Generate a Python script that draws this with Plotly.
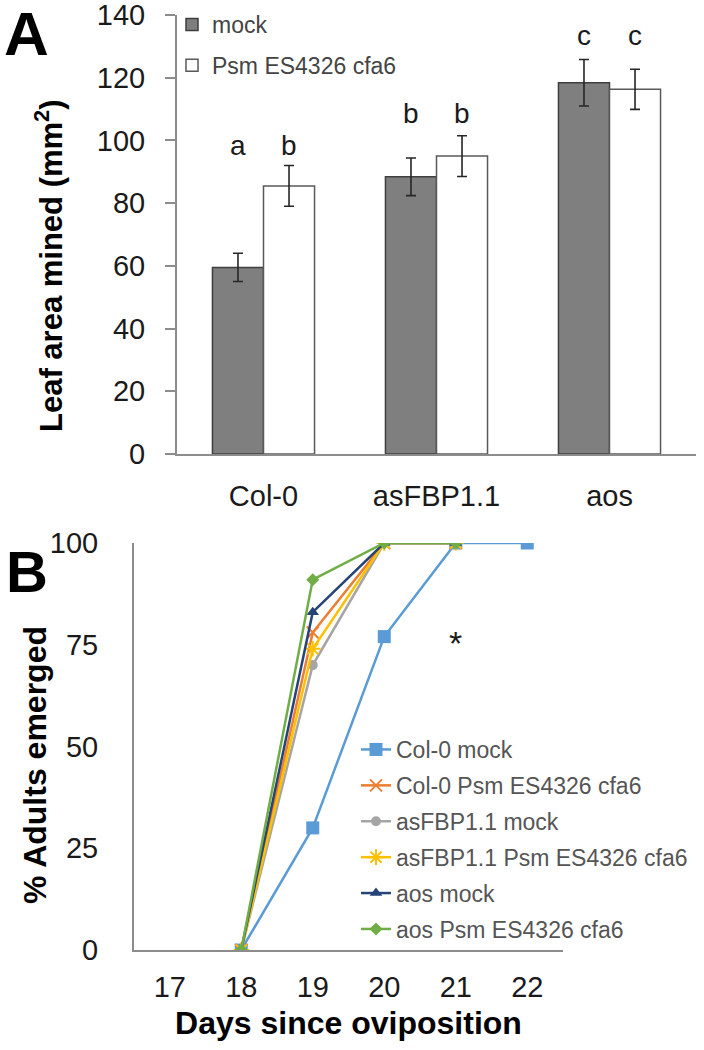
import plotly.graph_objects as go

# ---------------- Data ----------------
# Panel A
genotypes = ["Col-0", "asFBP1.1", "aos"]
treatments = ["mock", "Psm ES4326 cfa6"]
area_mock = [59.5, 88.4, 118.4]
err_mock = [4.5, 6.0, 7.4]
area_psm = [85.5, 95.0, 116.3]
err_psm = [6.5, 6.5, 6.4]
letters_mock = ["a", "b", "c"]
letters_psm = ["b", "b", "c"]
letter_y = [98.5, 108.7, 133.6]

# Panel B
days = [17, 18, 19, 20, 21, 22]
series_names = ["Col-0 mock", "Col-0 Psm ES4326 cfa6", "asFBP1.1 mock",
                "asFBP1.1 Psm ES4326 cfa6", "aos mock", "aos Psm ES4326 cfa6"]
col0_mock = [None, 0, 30, 77, 100, 100]
col0_psm = [None, 0, 78, 100, 100, None]
asfbp_mock = [None, 0, 70, 100, 100, None]
asfbp_psm = [None, 0, 74, 100, 100, None]
aos_mock = [None, 0, 83, 100, 100, None]
aos_psm = [None, 0, 91, 100, 100, None]
star_day = 21
star_y = 75.5

# ---------------- Styling ----------------
W, H = 704, 1050
FONT = "Liberation Sans, Arial, sans-serif"
AXIS_GRAY = "#8c8c8c"
TXT = "#1a1a1a"
TICK_SIZE = 29


def fx(px):
    return px / W


def fy(py):
    return 1 - py / H


bargap = 0.41
offset = (1 - bargap) / 4
xs = list(range(len(genotypes)))

fig = go.Figure()

fig.add_trace(go.Bar(
    x=xs, y=area_mock, name=treatments[0], legend="legend", legendgroup="m",
    marker=dict(color="#7f7f7f", line=dict(color="#3f3f3f", width=1.5)),
    error_y=dict(type="data", array=err_mock, color="#262626", thickness=1.6, width=5),
    xaxis="x", yaxis="y",
))
fig.add_trace(go.Bar(
    x=xs, y=area_psm, name=treatments[1], legend="legend", legendgroup="p",
    marker=dict(color="white", line=dict(color="#595959", width=1.5)),
    error_y=dict(type="data", array=err_psm, color="#262626", thickness=1.6, width=5),
    xaxis="x", yaxis="y",
))

colors = ["#5b9bd5", "#ed7d31", "#a5a5a5", "#ffc000", "#264478", "#70ad47"]
symbols = ["square", "x-thin-open", "circle", "asterisk-open", "triangle-up", "diamond"]
sizes = [13, 12, 10, 13, 11, 10]
all_series = [col0_mock, col0_psm, asfbp_mock, asfbp_psm, aos_mock, aos_psm]
for i, (nm, vals) in enumerate(zip(series_names, all_series)):
    fig.add_trace(go.Scatter(
        x=days, y=vals, name=nm, mode="lines+markers", legend="legend2",
        legendgroup=f"s{i}",
        line=dict(color=colors[i], width=2.5),
        marker=dict(symbol=symbols[i], size=sizes[i], color=colors[i],
                    line=dict(color=colors[i], width=2 if "open" in symbols[i] else 0)),
        xaxis="x2", yaxis="y2", connectgaps=False,
    ))

annotations = []
for i in range(len(genotypes)):
    annotations.append(dict(x=xs[i] - offset, y=letter_y[i], text=letters_mock[i],
                            xref="x", yref="y", showarrow=False,
                            font=dict(size=28, color=TXT, family=FONT)))
    annotations.append(dict(x=xs[i] + offset, y=letter_y[i], text=letters_psm[i],
                            xref="x", yref="y", showarrow=False,
                            font=dict(size=28, color=TXT, family=FONT)))
annotations.append(dict(x=star_day, y=star_y, text="*", xref="x2", yref="y2",
                        showarrow=False, font=dict(size=34, color=TXT, family=FONT)))
annotations.append(dict(x=fx(26), y=fy(33), text="<b>A</b>", xref="paper", yref="paper",
                        xanchor="center", yanchor="middle", showarrow=False,
                        font=dict(size=62, color="#000", family=FONT)))
annotations.append(dict(x=fx(27), y=fy(571), text="<b>B</b>", xref="paper", yref="paper",
                        xanchor="center", yanchor="middle", showarrow=False,
                        font=dict(size=58, color="#000", family=FONT)))
# y-axis titles (placed as in the reference, offset from the plot-area centre)
annotations.append(dict(x=fx(49), y=fy(266), text="<b>Leaf area mined (mm<sup>2</sup>)</b>",
                        xref="paper", yref="paper", textangle=-90, showarrow=False,
                        xanchor="center", yanchor="middle",
                        font=dict(size=31, color="#000", family=FONT)))
annotations.append(dict(x=fx(35), y=fy(765), text="<b>% Adults emerged</b>",
                        xref="paper", yref="paper", textangle=-90, showarrow=False,
                        xanchor="center", yanchor="middle",
                        font=dict(size=32, color="#000", family=FONT)))

fig.update_layout(
    width=W, height=H,
    margin=dict(l=0, r=0, t=0, b=0, autoexpand=False),
    paper_bgcolor="white", plot_bgcolor="white",
    font=dict(family=FONT, color=TXT),
    barmode="group", bargap=bargap, bargroupgap=0,
    showlegend=True,
    annotations=annotations,
    xaxis=dict(
        domain=[fx(177), fx(696)], range=[-0.5, 2.5], automargin=False,
        tickvals=xs, ticktext=genotypes, showgrid=False, zeroline=False,
        showline=True, linecolor=AXIS_GRAY, linewidth=2, ticks="",
        tickfont=dict(size=TICK_SIZE, color=TXT), ticklabelstandoff=15, anchor="y",
        ticklabeloverflow="allow",
    ),
    yaxis=dict(
        domain=[fy(454), fy(15)], range=[0, 140], dtick=20, automargin=False,
        showgrid=False, zeroline=False, showline=True, linecolor=AXIS_GRAY, linewidth=2,
        ticks="outside", ticklen=10, tickwidth=2, tickcolor=AXIS_GRAY,
        tickfont=dict(size=TICK_SIZE, color=TXT), ticklabelstandoff=14, anchor="x",
        ticklabeloverflow="allow",
    ),
    xaxis2=dict(
        domain=[fx(134), fx(563)], range=[16.5, 22.5], dtick=1, automargin=False,
        showgrid=False, zeroline=False, showline=True, linecolor=AXIS_GRAY, linewidth=2,
        ticks="", tickfont=dict(size=TICK_SIZE, color=TXT), ticklabelstandoff=10, anchor="y2",
        ticklabeloverflow="allow",
        title=dict(text="<b>Days since oviposition</b>", font=dict(size=32, color="#000"),
                   standoff=10),
    ),
    yaxis2=dict(
        domain=[fy(950), fy(543)], range=[0, 100], dtick=25, automargin=False,
        showgrid=False, zeroline=False, showline=True, linecolor=AXIS_GRAY, linewidth=2,
        ticks="", tickfont=dict(size=TICK_SIZE, color=TXT), ticklabelstandoff=28, anchor="x2",
        ticklabeloverflow="allow",
    ),
    legend=dict(
        x=fx(172), y=fy(3), xanchor="left", yanchor="top",
        font=dict(size=23, color="#444", family=FONT), bgcolor="rgba(0,0,0,0)",
        tracegroupgap=8, itemwidth=30, traceorder="grouped",
    ),
    legend2=dict(
        x=fx(356), y=fy(728), xanchor="left", yanchor="top",
        font=dict(size=23, color="#555", family=FONT), bgcolor="rgba(0,0,0,0)",
        tracegroupgap=3, itemwidth=30, traceorder="grouped",
    ),
)

fig.write_html("out.html", config={"displayModeBar": False},
               post_script="document.body.style.margin='0';")
